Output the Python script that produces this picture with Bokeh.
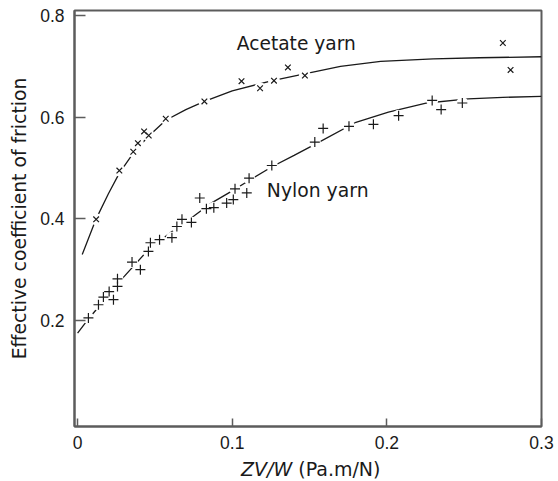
from bokeh.plotting import figure
from bokeh.models import Label, FixedTicker, Range1d, Div
from bokeh.layouts import column
from bokeh.embed import file_html
from bokeh.resources import INLINE

# Acetate yarn measurements (x markers)
acetate_x = [0.012, 0.027, 0.036, 0.039, 0.043, 0.046, 0.057, 0.082, 0.106, 0.118, 0.127, 0.136, 0.147, 0.275, 0.280]
acetate_y = [0.399, 0.495, 0.532, 0.549, 0.572, 0.564, 0.597, 0.631, 0.671, 0.657, 0.672, 0.698, 0.682, 0.746, 0.693]

# Acetate fitted curve
acetate_curve_x = [0.003, 0.012, 0.020, 0.027, 0.035, 0.045, 0.057, 0.070, 0.082, 0.100, 0.126, 0.146, 0.170, 0.196, 0.230, 0.260, 0.300]
acetate_curve_y = [0.330, 0.400, 0.450, 0.490, 0.525, 0.560, 0.594, 0.615, 0.631, 0.652, 0.672, 0.685, 0.700, 0.710, 0.715, 0.717, 0.719]

# Nylon yarn measurements (+ markers)
nylon_x = [0.007, 0.0135, 0.0167, 0.0204, 0.0232, 0.0258, 0.0258, 0.0352, 0.0406, 0.0458, 0.0471, 0.053,
           0.061, 0.0642, 0.0675, 0.0736, 0.079, 0.0833, 0.0881, 0.0964, 0.1007, 0.1018, 0.1094, 0.1109,
           0.1256, 0.1534, 0.1588, 0.1755, 0.1913, 0.2076, 0.2293, 0.2351, 0.2488]
nylon_y = [0.205, 0.231, 0.246, 0.257, 0.241, 0.282, 0.267, 0.315, 0.300, 0.336, 0.353, 0.359,
           0.363, 0.385, 0.399, 0.393, 0.441, 0.420, 0.422, 0.431, 0.438, 0.459, 0.451, 0.480,
           0.505, 0.551, 0.578, 0.582, 0.586, 0.603, 0.633, 0.615, 0.628]

# Nylon fitted curve
nylon_curve_x = [0.000, 0.007, 0.015, 0.020, 0.029, 0.046, 0.061, 0.075, 0.087, 0.100, 0.109, 0.126, 0.140, 0.155, 0.180, 0.201, 0.226, 0.2525, 0.275, 0.300]
nylon_curve_y = [0.175, 0.203, 0.232, 0.250, 0.283, 0.340, 0.375, 0.405, 0.432, 0.455, 0.472, 0.503, 0.525, 0.549, 0.590, 0.610, 0.628, 0.636, 0.639, 0.641]

x_ticks = [0, 0.1, 0.2, 0.3]
x_tick_labels = ["0", "0.1", "0.2", "0.3"]
y_ticks = [0.2, 0.4, 0.6, 0.8]
y_tick_labels = ["0.2", "0.4", "0.6", "0.8"]

INK = "#1a1a1a"
FRAME = "#5c5c5c"

p = figure(width=558, height=458, output_backend="svg", toolbar_location=None,
           x_range=Range1d(-0.002, 0.3), y_range=Range1d(-0.0086, 0.81),
           min_border_left=74, min_border_right=17, min_border_top=10, min_border_bottom=32)
p.xgrid.visible = False
p.ygrid.visible = False
p.outline_line_color = FRAME
p.outline_line_width = 2
p.background_fill_color = "white"
p.border_fill_color = "white"

for ax in (p.xaxis, p.yaxis):
    ax.axis_line_color = FRAME
    ax.axis_line_width = 2
    ax.major_tick_line_color = FRAME
    ax.major_tick_line_width = 1.5
    ax.minor_tick_line_color = None
    ax.major_tick_out = 0
    ax.major_label_text_font = "Liberation Sans"
    ax.major_label_text_font_size = "17.5px"
    ax.major_label_text_color = INK

p.xaxis.ticker = FixedTicker(ticks=x_ticks)
p.xaxis.major_label_overrides = dict(zip(x_ticks, x_tick_labels))
p.xaxis.major_tick_in = 8
p.xaxis.major_label_standoff = 9
p.yaxis.ticker = FixedTicker(ticks=y_ticks)
p.yaxis.major_label_overrides = dict(zip(y_ticks, y_tick_labels))
p.yaxis.major_tick_in = 11
p.yaxis.major_label_standoff = 10
p.yaxis.axis_label = "Effective coefficient of friction"
p.yaxis.axis_label_text_font = "DejaVu Sans"
p.yaxis.axis_label_text_font_style = "normal"
p.yaxis.axis_label_text_font_size = "18.8px"
p.yaxis.axis_label_text_color = INK
p.yaxis.axis_label_standoff = 7

# fitted curves
p.line(acetate_curve_x, acetate_curve_y, line_color=INK, line_width=1.3)
p.line(nylon_curve_x, nylon_curve_y, line_color=INK, line_width=1.3)

# white gaps around markers (the curve is interrupted at each point)
p.scatter(acetate_x, acetate_y, marker="circle", size=12, fill_color="white", line_color=None)
p.scatter(nylon_x, nylon_y, marker="circle", size=12, fill_color="white", line_color=None)

# markers
p.scatter(acetate_x, acetate_y, marker="x", size=8, line_color=INK, line_width=1.2)
p.scatter(nylon_x, nylon_y, marker="cross", size=10, line_color=INK, line_width=1.2)

# series labels
p.add_layout(Label(x=0.103, y=0.745, text="Acetate yarn", text_font="DejaVu Sans",
                   text_font_size="18.6px", text_color=INK, text_baseline="middle", text_align="left"))
p.add_layout(Label(x=0.1224, y=0.456, text="Nylon yarn", text_font="DejaVu Sans",
                   text_font_size="18.8px", text_color=INK, text_baseline="middle", text_align="left"))

# x-axis title (italic quantity + unit) as real text below the plot
xtitle = Div(text="<i>ZV/W</i> (Pa.m/N)", width=300, height=22, margin=(0, 0, 0, 241),
             styles={"font-family": "DejaVu Sans", "font-size": "19px", "color": INK,
                     "line-height": "22px", "white-space": "nowrap"})

layout = column(p, xtitle, spacing=0)

open("out.html", "w").write(file_html(layout, INLINE))
